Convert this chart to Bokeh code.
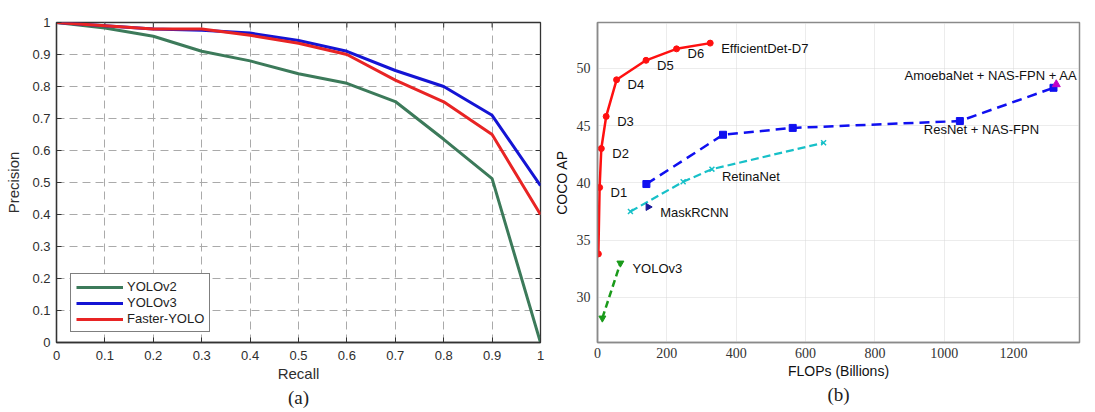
import math
from bokeh.plotting import figure
from bokeh.layouts import row
from bokeh.models import Range1d, Title, FixedTicker
from bokeh.core.properties import value
from bokeh.embed import file_html
from bokeh.resources import INLINE

# ---------------- data: panel (a) ----------------
recall = [0.0, 0.1, 0.2, 0.3, 0.4, 0.5, 0.6, 0.7, 0.8, 0.9, 1.0]
yolov2 = [1.0, 0.983, 0.957, 0.91, 0.88, 0.84, 0.81, 0.753, 0.635, 0.512, 0.0]
yolov3 = [1.0, 0.99, 0.98, 0.976, 0.967, 0.944, 0.91, 0.85, 0.80, 0.71, 0.49]
faster_yolo = [1.0, 0.99, 0.98, 0.98, 0.96, 0.935, 0.90, 0.82, 0.752, 0.65, 0.40]
a_ticks = [0.0, 0.1, 0.2, 0.3, 0.4, 0.5, 0.6, 0.7, 0.8, 0.9, 1.0]
a_tick_labels = ["0", "0.1", "0.2", "0.3", "0.4", "0.5", "0.6", "0.7", "0.8", "0.9", "1"]

# ---------------- data: panel (b) ----------------
effdet_flops = [2.5, 6.1, 11, 25, 55, 140, 228, 325]
effdet_ap = [33.8, 39.6, 43.0, 45.8, 49.0, 50.7, 51.7, 52.2]
effdet_names = ["", "D1", "D2", "D3", "D4", "D5", "D6", "EfficientDet-D7"]
nasfpn_flops = [141, 362, 563, 1045, 1315]
nasfpn_ap = [39.9, 44.2, 44.8, 45.4, 48.3]
retina_flops = [95, 247, 330, 652]
retina_ap = [37.5, 40.1, 41.2, 43.5]
maskrcnn_flops = [146]
maskrcnn_ap = [37.9]
yolo3_flops = [14, 66]
yolo3_ap = [28.2, 33.0]
amoeba_flops = [1323]
amoeba_ap = [48.6]
b_xticks = [0, 200, 400, 600, 800, 1000, 1200]
b_yticks = [30, 35, 40, 45, 50]

SANS = "Liberation Sans"
SERIF = "Liberation Serif"

# ================= panel (a) =================
pa = figure(width=550, height=412, x_range=Range1d(0, 1), y_range=Range1d(0, 1),
            output_backend="svg", toolbar_location=None,
            min_border_left=56, min_border_right=10, min_border_top=21, min_border_bottom=70)
pa.outline_line_color = "#333333"
pa.outline_line_width = 1.3
pa.background_fill_color = "white"

for ax in (pa.xaxis[0], pa.yaxis[0]):
    ax.ticker = FixedTicker(ticks=a_ticks)
    ax.major_label_overrides = {t: l for t, l in zip(a_ticks, a_tick_labels)}
    ax.major_tick_in = 5
    ax.major_tick_out = 0
    ax.minor_tick_line_color = None
    ax.axis_line_color = "#333333"
    ax.axis_line_width = 1.3
    ax.major_tick_line_color = "#333333"
    ax.major_label_text_font = SANS
    ax.major_label_text_font_size = "13px"
    ax.major_label_text_color = "#2e2e2e"
    ax.axis_label_text_font = SANS
    ax.axis_label_text_font_size = "15px"
    ax.axis_label_text_font_style = "normal"
    ax.axis_label_text_color = "#2e2e2e"
pa.xaxis.axis_label = "Recall"
pa.yaxis.axis_label = "Precision"
pa.xaxis.major_label_standoff = 8
pa.yaxis.major_label_standoff = 6
pa.xaxis.axis_label_standoff = 2
pa.yaxis.axis_label_standoff = 7

# inward ticks on the top and right frame edges
pa.ray(x=a_ticks[1:-1], y=[1.0] * 9, length=5, length_units="screen",
       angle=-math.pi / 2, line_color="#333333", line_width=1)
pa.ray(x=[1.0] * 9, y=a_ticks[1:-1], length=5, length_units="screen",
       angle=math.pi, line_color="#333333", line_width=1)

pa.grid.ticker = FixedTicker(ticks=a_ticks[1:-1])
pa.grid.grid_line_color = "#aaaaaa"
pa.grid.grid_line_dash = "8 5"
pa.grid.grid_line_width = 1

pa.line(recall, yolov2, color="#3c7a5a", line_width=3, legend_label="YOLOv2")
pa.line(recall, yolov3, color="#1414d4", line_width=3, legend_label="YOLOv3")
pa.line(recall, faster_yolo, color="#e82424", line_width=3, legend_label="Faster-YOLO")

lg = pa.legend[0]
lg.location = (14, 10)
lg.border_line_color = "black"
lg.border_line_width = 1
lg.background_fill_alpha = 1
lg.padding = 5
lg.spacing = 1
lg.margin = 0
lg.glyph_width = 47
lg.glyph_height = 12
lg.label_height = 12
lg.label_standoff = 4
lg.label_text_font = SANS
lg.label_text_font_size = "13px"
lg.label_text_color = "#1e1e1e"

pa.add_layout(Title(text="(a)", align="center", text_font=SERIF, text_font_size="19px",
                    text_font_style="normal", text_color="#222222", standoff=0), "below")

# ================= panel (b) =================
pb = figure(width=545, height=412, x_range=Range1d(0, 1390), y_range=Range1d(26.07, 54.0),
            output_backend="svg", toolbar_location=None,
            min_border_left=45, min_border_right=16, min_border_top=22, min_border_bottom=70)
pb.outline_line_color = "#8a8a8a"
pb.outline_line_width = 1.5
pb.xaxis.ticker = FixedTicker(ticks=b_xticks)
pb.yaxis.ticker = FixedTicker(ticks=b_yticks)
for ax in (pb.xaxis[0], pb.yaxis[0]):
    ax.major_tick_in = 0
    ax.major_tick_out = 0
    ax.minor_tick_line_color = None
    ax.axis_line_color = "#8a8a8a"
    ax.axis_line_width = 1.5
    ax.major_label_text_font = SERIF
    ax.major_label_text_font_size = "14px"
    ax.major_label_text_color = "#333333"
    ax.axis_label_text_font = SANS
    ax.axis_label_text_font_size = "14px"
    ax.axis_label_text_font_style = "normal"
    ax.axis_label_text_color = "#111111"
pb.xaxis.axis_label = "FLOPs (Billions)"
pb.yaxis.axis_label = "COCO AP"
pb.xaxis.major_label_standoff = 5
pb.yaxis.major_label_standoff = 7
pb.xaxis.axis_label_standoff = 2
pb.yaxis.axis_label_standoff = 4
pb.grid.grid_line_color = "#d8d8d8"
pb.grid.grid_line_dash = "1 1"
pb.grid.grid_line_width = 1

# YOLOv3
pb.line(yolo3_flops, yolo3_ap, color="#1a9a1a", line_width=2.5, line_dash="7 4")
pb.scatter(yolo3_flops, yolo3_ap, marker="inverted_triangle", size=7, color="#1a9a1a")
# RetinaNet
pb.line(retina_flops, retina_ap, color="#17c0c8", line_width=2.2, line_dash="8 4")
pb.scatter(retina_flops, retina_ap, marker="x", size=7, line_width=1.5, color="#17c0c8")
# MaskRCNN
pb.scatter(maskrcnn_flops, maskrcnn_ap, marker="triangle", angle=-math.pi / 2, size=7, color="#18189a")
# NAS-FPN
pb.line(nasfpn_flops, nasfpn_ap, color="#1010f0", line_width=2.5, line_dash="10 6")
pb.scatter(nasfpn_flops, nasfpn_ap, marker="square", size=7, color="#1010f0")
# AmoebaNet
pb.scatter(amoeba_flops, amoeba_ap, marker="triangle", size=8, color="#c000c8")
# EfficientDet
pb.line(effdet_flops, effdet_ap, color="#ff1010", line_width=2.5)
pb.scatter(effdet_flops, effdet_ap, marker="circle", size=6, color="#ff1010")


def lab(p, x, y, t, dx, dy, align="left"):
    p.text(x=x, y=y, text=t, x_offset=dx, y_offset=dy, text_align=align,
           text_baseline="middle", text_font=value(SANS), text_font_size="13px",
           text_color="#111111")


lab(pb, effdet_flops[1:], effdet_ap[1:], effdet_names[1:], 11, 5)
lab(pb, [retina_flops[2]], [retina_ap[2]], ["RetinaNet"], 10, 7)
lab(pb, maskrcnn_flops, maskrcnn_ap, ["MaskRCNN"], 12, 6)
lab(pb, [yolo3_flops[1]], [yolo3_ap[1]], ["YOLOv3"], 12, 5)
lab(pb, [nasfpn_flops[3]], [nasfpn_ap[3]], ["ResNet + NAS-FPN"], -36, 8)
lab(pb, amoeba_flops, amoeba_ap, ["AmoebaNet + NAS-FPN + AA"], 21, -9, align="right")

pb.add_layout(Title(text="(b)", align="center", text_font=SERIF, text_font_size="19px",
                    text_font_style="normal", text_color="#222222", standoff=0), "below")

layout = row(pa, pb)
open("out.html", "w").write(file_html(layout, INLINE))
